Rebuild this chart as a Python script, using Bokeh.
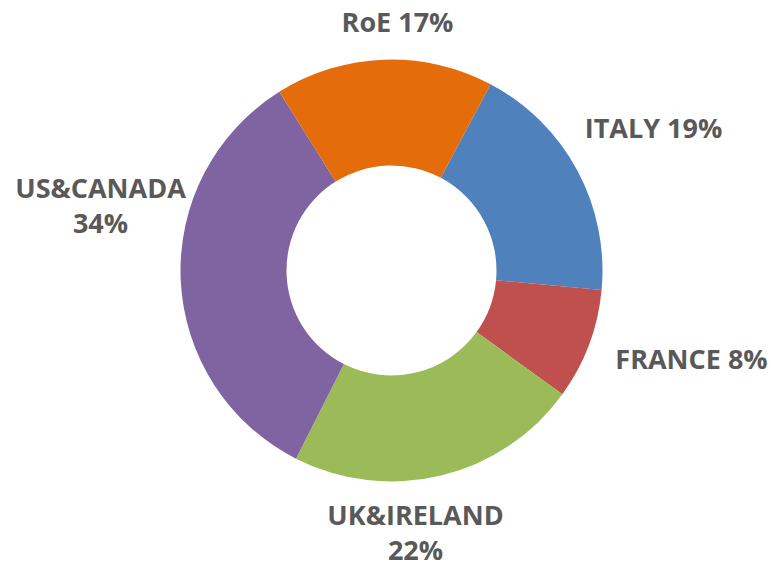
import math
from bokeh.plotting import figure
from bokeh.models import Range1d, ColumnDataSource
from bokeh.core.properties import value
from bokeh.embed import file_html
from bokeh.resources import INLINE

# Data
categories = ["ITALY", "FRANCE", "UK&IRELAND", "US&CANADA", "RoE"]
shares = [18.7, 8.5, 22.5, 33.6, 16.7]          # slice sizes as drawn
share_labels = ["19%", "8%", "22%", "34%", "17%"]  # labels as printed
colors = ["#4F81BD", "#C0504D", "#9BBB59", "#8064A2", "#E46C0A"]

# Layout
W, H = 771, 567
cx, cy = 391, 297
r_out, r_in = 211, 105
start_offset_deg = 28  # first slice starts 28 deg clockwise from 12 o'clock

total = sum(shares)
starts, ends = [], []
cum = start_offset_deg
for s in shares:
    a0 = cum
    a1 = cum + s / total * 360.0
    starts.append(math.radians(90 - a0))
    ends.append(math.radians(90 - a1))
    cum = a1

p = figure(width=W, height=H, output_backend="svg", toolbar_location=None,
           x_range=Range1d(0, W), y_range=Range1d(0, H), min_border=0,
           background_fill_color="white", border_fill_color="white")
p.outline_line_color = None
p.axis.visible = False
p.grid.visible = False

src = ColumnDataSource(dict(start=starts, end=ends, color=colors))
p.annular_wedge(x=cx, y=cy, inner_radius=r_in, outer_radius=r_out,
                start_angle="start", end_angle="end", direction="clock",
                fill_color="color", line_color=None, source=src)

# label layout: (center x, vertical center of first line, split into two lines?)
label_layout = {
    "ITALY": (653, 440, False),
    "FRANCE": (691, 209, False),
    "UK&IRELAND": (415, 53, True),
    "US&CANADA": (100, 380, True),
    "RoE": (397, 546, False),
}
line_gap = 35

tx, ty, tt = [], [], []
for cat, lab in zip(categories, share_labels):
    x, y, two = label_layout[cat]
    if two:
        tx += [x, x]
        ty += [y, y - line_gap]
        tt += [cat, lab]
    else:
        tx.append(x)
        ty.append(y)
        tt.append(f"{cat} {lab}")

p.text(x=tx, y=ty, text=tt, text_align="center", text_baseline="middle",
       text_font=value("Open Sans"), text_font_style="bold", text_font_size="27px",
       text_color="#595959")

open("out.html", "w").write(file_html(p, INLINE))
